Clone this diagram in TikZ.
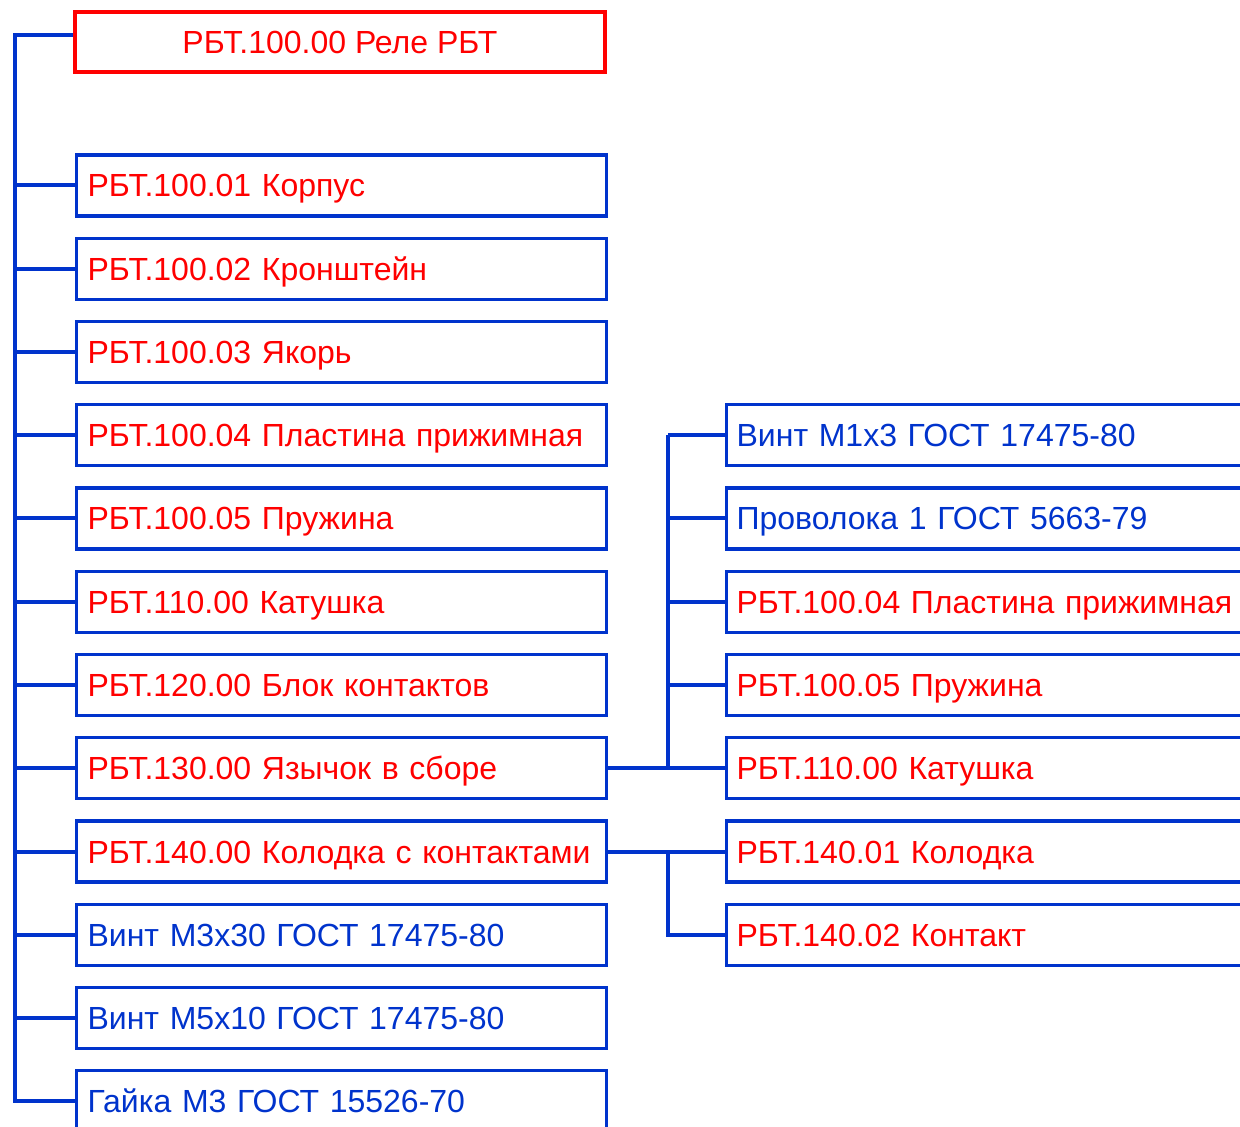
\documentclass[tikz,border=0pt]{standalone}
\usepackage{fontspec}
\setmainfont{Liberation Sans}
\usetikzlibrary{positioning}
\definecolor{lineblue}{RGB}{0,51,204}
\definecolor{partred}{RGB}{255,0,0}

\begin{document}
\begin{tikzpicture}[
    x=0.5pt, y=-0.5pt,
    font=\fontsize{16pt}{19pt}\selectfont,
    root/.style={draw=partred, line width=1.6pt, text=partred,
                 minimum width=265pt, minimum height=30pt, align=center,
                 text height=11.5pt, text depth=0pt},
    item/.style={draw=lineblue, line width=1.6pt, anchor=west,
                 text width=254pt, inner xsep=5.5pt, align=left,
                 minimum height=30.5pt, text height=11.5pt, text depth=0pt},
    sub/.style={item, text width=270pt, inner xsep=5pt},
    red/.style={text=partred},
    blue/.style={text=lineblue},
    link/.style={draw=lineblue, line width=2pt},
  ]
    \useasboundingbox (0,0) rectangle (1240,1127);
    \clip (0,0) rectangle (1240,1127);
    % assembly
    \node[root] (p00) at (340,42) {РБТ.100.00 Реле РБТ};
    % parts of the assembly
    \node[item,red]  (p01) at (75,185.5)  {РБТ.100.01 Корпус};
    \node[item,red]  (p02) at (75,268.75) {РБТ.100.02 Кронштейн};
    \node[item,red]  (p03) at (75,352)    {РБТ.100.03 Якорь};
    \node[item,red]  (p04) at (75,435.25) {РБТ.100.04 Пластина прижимная};
    \node[item,red]  (p05) at (75,518.5)  {РБТ.100.05 Пружина};
    \node[item,red]  (p06) at (75,601.75) {РБТ.110.00 Катушка};
    \node[item,red]  (p07) at (75,685)    {РБТ.120.00 Блок контактов};
    \node[item,red]  (p08) at (75,768.25) {РБТ.130.00 Язычок в сборе};
    \node[item,red]  (p09) at (75,851.5)  {РБТ.140.00 Колодка с контактами};
    \node[item,blue] (p10) at (75,934.75) {Винт М3х30 ГОСТ 17475-80};
    \node[item,blue] (p11) at (75,1018)   {Винт М5х10 ГОСТ 17475-80};
    \node[item,blue] (p12) at (75,1101.25){Гайка М3 ГОСТ 15526-70};
    % parts of the sub-assemblies
    \node[sub,blue] (q1) at (725,435.25) {Винт М1х3 ГОСТ 17475-80};
    \node[sub,blue] (q2) at (725,518.5)  {Проволока 1 ГОСТ 5663-79};
    \node[sub,red]  (q3) at (725,601.75) {РБТ.100.04 Пластина прижимная};
    \node[sub,red]  (q4) at (725,685)    {РБТ.100.05 Пружина};
    \node[sub,red]  (q5) at (725,768.25) {РБТ.110.00 Катушка};
    \node[sub,red]  (q6) at (725,851.5)  {РБТ.140.01 Колодка};
    \node[sub,red]  (q7) at (725,934.75) {РБТ.140.02 Контакт};
    % main trunk
    \coordinate (t0) at (15,35);
    \path[link] (t0 -| p00.west) -- (t0) -- (t0 |- p12.west) -- (p12.west);
    \foreach \p in {p01,p02,p03,p04,p05,p06,p07,p08,p09,p10,p11}
      \draw[link] (t0 |- \p.west) -- (\p.west);
    % branch of the reed assembly
    \draw[link] (p08.east) -- ++(60,0) coordinate (j1);
    \draw[link] (j1 |- q1.west) -- (j1);
    \foreach \q in {q1,q2,q3,q4,q5}
      \draw[link] (j1 |- \q.west) -- (\q.west);
    % branch of the terminal block
    \draw[link] (p09.east) -- ++(60,0) coordinate (j2);
    \draw[link] (j2) -- (j2 |- q7.west) -- (q7.west);
    \draw[link] (j2) -- (q6.west);
  \end{tikzpicture}
\end{document}
